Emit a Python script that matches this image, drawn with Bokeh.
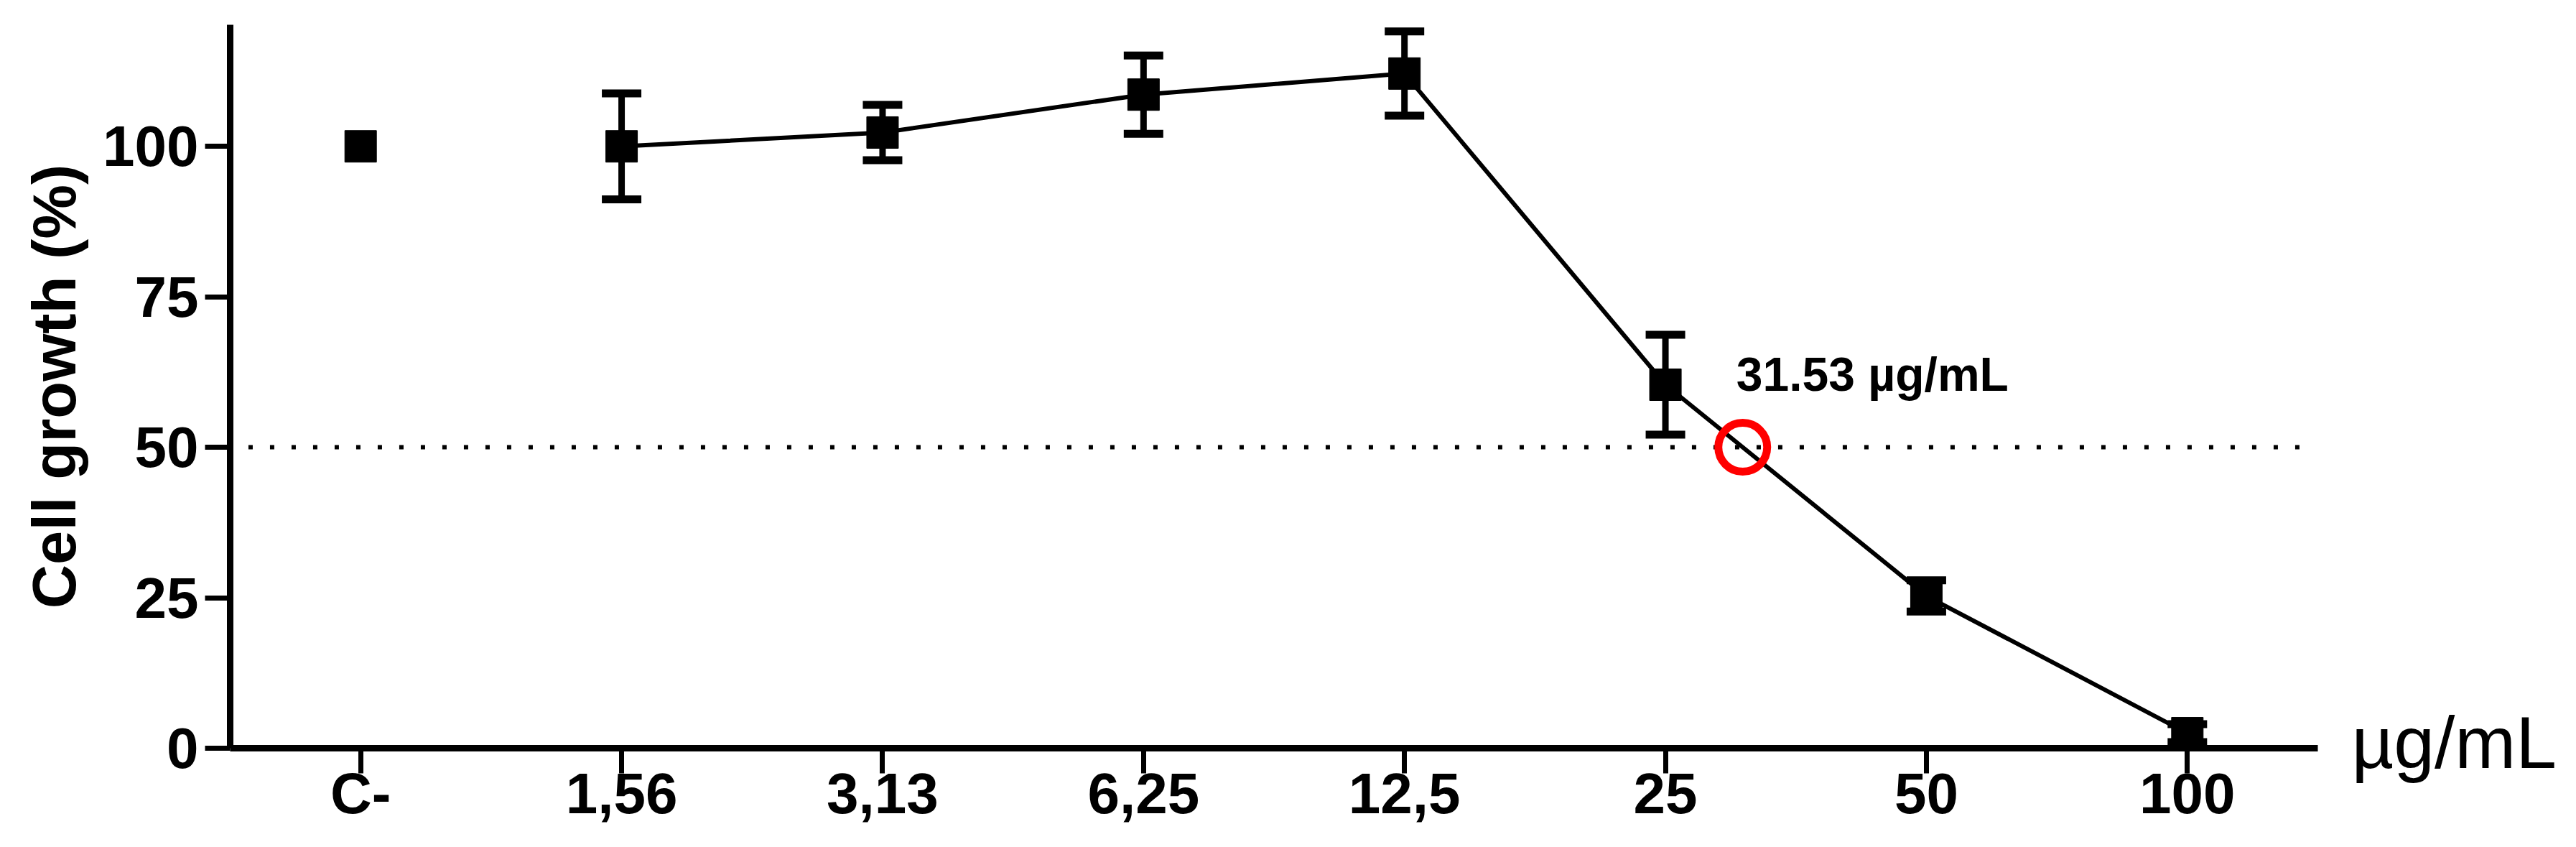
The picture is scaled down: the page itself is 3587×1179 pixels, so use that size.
from bokeh.plotting import figure
from bokeh.models import Range1d, FixedTicker, Whisker, TeeHead, ColumnDataSource, Label
from bokeh.embed import file_html
from bokeh.resources import INLINE

# ---- data ----
categories = ["C-", "1,56", "3,13", "6,25", "12,5", "25", "50", "100"]
growth = [100.0, 100.0, 102.3, 108.6, 112.1, 60.4, 25.3, 2.5]
sd = [0.0, 8.8, 4.6, 6.5, 7.0, 8.3, 2.6, 1.5]
y_ticks = [0, 25, 50, 75, 100]
threshold = 50
ic50_text = "31.53 µg/mL"
unit_text = "µg/mL"
y_title = "Cell growth (%)"

xs = list(range(len(categories)))

FONT = "Liberation Sans"

p = figure(width=3579, height=1171,
           x_range=Range1d(-0.5, 7.5), y_range=Range1d(0, 120.2),
           output_backend="svg", toolbar_location=None,
           min_border_left=320, min_border_right=352,
           min_border_top=34, min_border_bottom=130)
p.xgrid.visible = False
p.ygrid.visible = False
p.outline_line_color = None
p.background_fill_color = "white"
p.border_fill_color = "white"

for ax in (p.xaxis[0], p.yaxis[0]):
    ax.axis_line_width = 9
    ax.axis_line_color = "black"
    ax.major_tick_line_width = 7
    ax.major_tick_line_color = "black"
    ax.major_tick_out = 35
    ax.major_tick_in = 0
    ax.minor_tick_line_color = None
    ax.major_label_text_font = FONT
    ax.major_label_text_font_style = "bold"
    ax.major_label_text_font_size = "80px"
    ax.major_label_text_color = "black"

p.xaxis.ticker = FixedTicker(ticks=xs)
p.xaxis.major_label_overrides = {i: c for i, c in enumerate(categories)}
p.xaxis.major_label_standoff = -17

p.yaxis.ticker = FixedTicker(ticks=y_ticks)
p.yaxis.major_label_standoff = 9
p.yaxis.axis_label = y_title
p.yaxis.axis_label_text_font = FONT
p.yaxis.axis_label_text_font_style = "bold"
p.yaxis.axis_label_text_font_size = "85px"
p.yaxis.axis_label_text_color = "black"
p.yaxis.axis_label_standoff = 17

# dotted 50% line
p.segment(x0=[-0.43], y0=[threshold], x1=[7.45], y1=[threshold],
          line_color="black", line_width=6, line_dash="6 24")

# connecting line (concentrations only)
p.line(xs[1:], growth[1:], line_color="black", line_width=6)

# error bars
src = ColumnDataSource(dict(
    x=xs[1:],
    upper=[g + s for g, s in zip(growth[1:], sd[1:])],
    lower=[g - s for g, s in zip(growth[1:], sd[1:])],
))
w = Whisker(base="x", upper="upper", lower="lower", source=src,
            dimension="height", line_color="black", line_width=9,
            upper_head=TeeHead(size=55, line_width=11, line_color="black"),
            lower_head=TeeHead(size=55, line_width=11, line_color="black"))
p.add_layout(w)

# markers
p.scatter(xs, growth, marker="square", size=44, color="black")

# IC50: where the curve crosses the threshold
ic_x = None
for i in range(1, len(growth) - 1):
    if growth[i] >= threshold > growth[i + 1]:
        t = (growth[i] - threshold) / (growth[i] - growth[i + 1])
        ic_x = xs[i] + t * (xs[i + 1] - xs[i])
        break

p.scatter([ic_x], [threshold], marker="circle", size=68,
          fill_color=None, line_color="red", line_width=11)

p.add_layout(Label(x=ic_x, y=threshold, x_offset=-9, y_offset=102,
                   text=ic50_text, text_font=FONT, text_font_style="bold",
                   text_font_size="66px", text_color="black",
                   text_baseline="alphabetic", text_align="left"))

# unit label to the right of the x axis (side panel, so it is not clipped)
p.add_layout(Label(x=47, y=8, x_units="screen", y_units="screen",
                   text=unit_text, text_font=FONT, text_font_style="normal",
                   text_font_size="102px", text_color="black",
                   text_baseline="alphabetic", text_align="left"), "right")

open("out.html", "w").write(file_html(p, INLINE, title="Cell growth"))
